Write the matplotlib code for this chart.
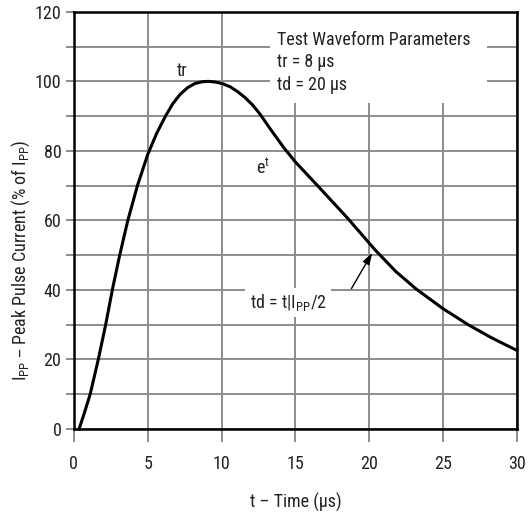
import matplotlib
matplotlib.use("Agg")
import matplotlib.pyplot as plt
from matplotlib.patches import Rectangle

plt.rcParams['font.family'] = ['Roboto Condensed', 'DejaVu Sans']
plt.rcParams['mathtext.default'] = 'regular'

# pulse waveform (t in us, % of Ipp)
t_us = [0.35, 0.7, 1.1, 1.65, 2.15, 2.6, 3.1, 3.65, 4.3, 5.0, 5.6, 6.2, 6.7,
        7.2, 7.7, 8.2, 8.7, 9.1, 9.6, 10.1, 10.6, 11.1, 11.6, 12.1, 12.6,
        13.3, 14.2, 15.0, 16.5, 18.5, 20.4, 21.8, 23.2, 25.0, 26.7, 28.3, 30.0]
ipp_pct = [0.0, 4.5, 10, 20, 30, 40, 50, 60, 70, 79, 85, 90, 93.6,
           96.3, 98.2, 99.4, 99.9, 100, 99.8, 99.3, 98.4, 97.0, 95.3, 93.2, 90.6,
           86.3, 81.0, 76.8, 70.0, 60.8, 51.5, 45.3, 40.2, 34.6, 30, 26.2, 22.6]

x_ticks = [0, 5, 10, 15, 20, 25, 30]
y_ticks = [0, 10, 20, 30, 40, 50, 60, 70, 80, 90, 100, 110, 120]
y_labels = [str(v) if v % 20 == 0 else "" for v in y_ticks]

box_lines = ["Test Waveform Parameters", "tr = 8 \u00b5s", "td = 20 \u00b5s"]

grid_col = "#8c8c8e"
txt_col = "#222222"

fig = plt.figure(figsize=(5.28, 5.15), dpi=100)
ax = fig.add_axes([0.140, 0.167, 0.839, 0.810])

ax.plot(t_us, ipp_pct, color="black", lw=2.2, zorder=3, clip_on=False)

ax.set_xlim(0, 30)
ax.set_ylim(0, 120)
ax.set_xticks(x_ticks)
ax.set_yticks(y_ticks)
ax.set_yticklabels(y_labels)
ax.set_axisbelow(True)
ax.grid(True, color=grid_col, lw=1.4)
ax.tick_params(direction="out", length=6, width=1.4, color=grid_col,
               labelsize=13, pad=3, labelcolor=txt_col)
ax.tick_params(axis="x", length=9, pad=10)
for s in ax.spines.values():
    s.set_linewidth(1.8)
    s.set_color("black")

ax.set_xlabel("t \u2013 Time (\u00b5s)", fontsize=13, labelpad=14, color=txt_col)
ax.set_ylabel("I$_{PP}$ \u2013 Peak Pulse Current (% of I$_{PP}$)", fontsize=13,
              color=txt_col, va="center")
ax.yaxis.set_label_coords(-0.12, 0.405)

# white panel behind the parameter text
ax.add_patch(Rectangle((13.3, 93.8), 14.7, 26.2, facecolor="white",
                       edgecolor="none", zorder=1))
for i, line in enumerate(box_lines):
    ax.text(13.75, 112 - i * 6.5, line, fontsize=13, va="center", ha="left",
            zorder=2, color=txt_col)

ax.text(7.3, 103, "tr", fontsize=13, ha="center", va="center", color=txt_col)
ax.text(12.8, 75, "e$^{t}$", fontsize=13, ha="center", va="center", color=txt_col)

ax.text(11.9, 36.3, "td = t|I$_{PP}$/2", fontsize=13, ha="left", va="center",
        zorder=2, color=txt_col,
        bbox=dict(facecolor="white", edgecolor="none", pad=3))
ax.annotate("", xy=(20.3, 51.4), xytext=(18.7, 39.7),
            arrowprops=dict(arrowstyle="-|>,head_length=0.7,head_width=0.22",
                            color="black", lw=1.0), zorder=4)

fig.savefig("out.png", dpi=100)
